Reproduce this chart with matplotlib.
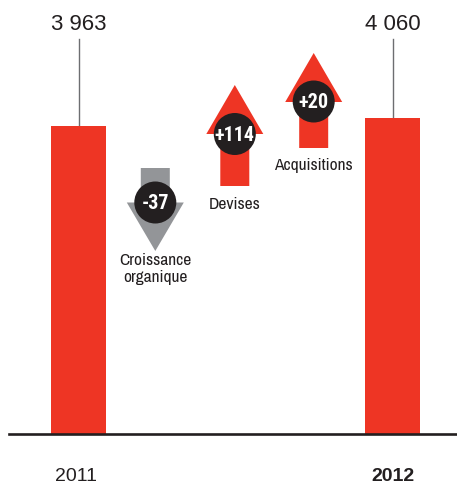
import matplotlib
matplotlib.use("Agg")
import matplotlib.pyplot as plt
from matplotlib.patches import Circle, Polygon
from matplotlib.transforms import Affine2D

years = ["2011", "2012"]
totals = [3963, 4060]
total_labels = ["3 963", "4 060"]
change_labels = ["-37", "+114", "+20"]
change_names = ["Croissance\norganique", "Devises", "Acquisitions"]

RED = "#EE3524"
GREY = "#939598"
DARK = "#231F20"
NARROW = ["Archivo Narrow", "Liberation Sans"]
BOLD_NARROW = ["Roboto Condensed", "Liberation Sans"]
REGULAR = ["Liberation Sans"]

W, H = 457, 485
BASE_Y = 435
PX_PER_UNIT = 0.0778

fig = plt.figure(figsize=(W / 100, H / 100), dpi=100)
ax = fig.add_axes([0, 0, 1, 1])
ax.set_xlim(0, W)
ax.set_ylim(-(H - BASE_Y) / PX_PER_UNIT, BASE_Y / PX_PER_UNIT)
ax.axis("off")

# decorations are placed in image pixels, y going down
px = Affine2D().scale(1, -1).translate(0, H)

# ── totals ───────────────────────────────────────────────────────────────
bar_x = [78.5, 392.5]
year_x = [76, 393]
year_weight = ["normal", "bold"]
ax.bar(bar_x, totals, width=55, color=RED, zorder=2)
for i, value in enumerate(totals):
    ax.plot([bar_x[i], bar_x[i]], [value, (BASE_Y - 40) / PX_PER_UNIT], color="#6D6E71", lw=1.0, zorder=1)
    ax.text(bar_x[i], 25, total_labels[i], transform=px, ha="center", va="center", fontsize=16,
            family=REGULAR, color=DARK)
    ax.text(year_x[i], 477, years[i], transform=px, ha="center", va="center",
            fontsize=14, family=REGULAR, weight=year_weight[i], color=DARK)
ax.plot([9, W], [BASE_Y, BASE_Y], transform=px, color=DARK, lw=1.9, zorder=3)


# ── change arrows ────────────────────────────────────────────────────────
def draw_arrow(cx, tail_y, head_y, tip_y, color):
    shaft, head = 14.5, 28.5
    points = [(cx - shaft, tail_y), (cx + shaft, tail_y), (cx + shaft, head_y), (cx + head, head_y),
              (cx, tip_y), (cx - head, head_y), (cx - shaft, head_y)]
    ax.add_patch(Polygon(points, closed=True, transform=px, facecolor=color, edgecolor="none", zorder=2))


arrow_x = [155.3, 234.8, 313.7]
arrow_tail = [169, 187, 149]
arrow_head = [203.5, 135, 103]
arrow_tip = [252, 86, 54]
arrow_color = [GREY, RED, RED]
circle_y = [203.5, 135, 102.5]
name_y = [269, 205, 166]

for i, label in enumerate(change_labels):
    draw_arrow(arrow_x[i], arrow_tail[i], arrow_head[i], arrow_tip[i], arrow_color[i])
    ax.add_patch(Circle((arrow_x[i], circle_y[i]), 21, transform=px, facecolor=DARK, edgecolor="none", zorder=4))
    ax.text(arrow_x[i], circle_y[i] + 0.5, label, transform=px, ha="center", va="center", fontsize=14.5,
            family=BOLD_NARROW, weight="bold", color="white", zorder=5)
    ax.text(arrow_x[i], name_y[i], change_names[i], transform=px, ha="center", va="center", fontsize=12.5,
            family=NARROW, color=DARK, linespacing=1.2)

fig.savefig("out.png", dpi=100)
plt.close(fig)
